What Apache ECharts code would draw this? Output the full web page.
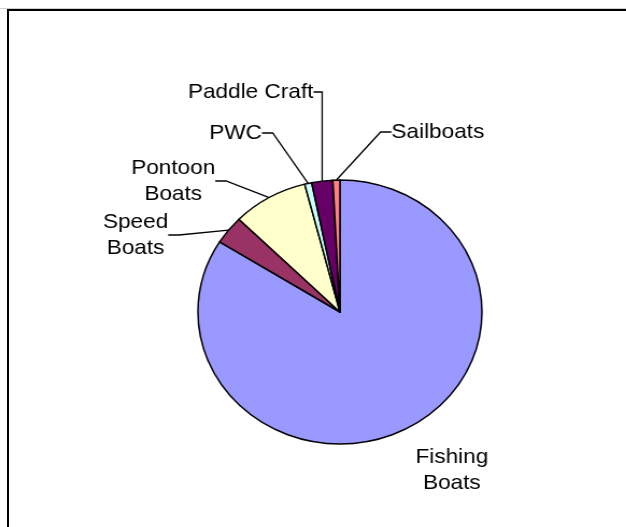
<!DOCTYPE html>
<html>
<head>
<meta charset="utf-8">
<script src="https://cdn.jsdelivr.net/npm/echarts@6/dist/echarts.min.js"></script>
<style>
  html, body { margin: 0; padding: 0; background: #fff; overflow: hidden; width: 626px; height: 527px; }
  /* the source chart is slightly stretched horizontally (pie is an ellipse) */
  #chart { position: absolute; left: 0; top: 0; width: 582px; height: 527px; transform: scaleX(1.0758); transform-origin: 0 0; }
  #frame { position: absolute; left: 7px; top: 9px; width: 800px; height: 800px; border-top: 2px solid #000; border-left: 2px solid #000; }
  #shade { position: absolute; left: 0; top: 8px; width: 626px; height: 1px; background: #cfcfcf; }
</style>
</head>
<body>
<div id="shade"></div>
<div id="frame"></div>
<div id="chart"></div>
<script>
const categories = ['Fishing Boats', 'Speed Boats', 'Pontoon Boats', 'PWC', 'Paddle Craft', 'Sailboats']
const labelText = ['Fishing\nBoats', 'Speed\nBoats', 'Pontoon\nBoats', 'PWC', 'Paddle Craft', 'Sailboats']
const values = [83.9, 3.5, 8.6, 0.8, 2.4, 0.8]
const colors = ['#9999ff', '#993366', '#ffffcc', '#ccffff', '#660066', '#ff8080']

// label centres (unscaled px)
const labelPos = [[420, 470], [126, 235], [161, 181], [219, 133], [233, 92], [407, 132]]

const chart = echarts.init(document.getElementById('chart'))

chart.setOption({
  animation: false,
  series: [
    {
      type: 'pie',
      center: [316, 312],
      radius: 132,
      startAngle: 90,
      clockwise: true,
      avoidLabelOverlap: false,
      minShowLabelAngle: 0,
      data: categories.map((name, i) => ({
        name,
        value: values[i],
        itemStyle: { color: colors[i] },
        label: { formatter: labelText[i] },
        labelLine: { show: i !== 0 },
      })),
      itemStyle: { borderColor: '#000', borderWidth: 1.5 },
      label: {
        color: '#000',
        fontFamily: 'Arial, "Liberation Sans", sans-serif',
        fontSize: 21,
        lineHeight: 26,
        align: 'center',
      },
      labelLine: { show: true, lineStyle: { color: '#000', width: 1.3 }, length: 10, length2: 10 },
      labelLayout: (params) => {
        const p = labelPos[params.dataIndex]
        return { x: p[0], y: p[1], align: 'center', verticalAlign: 'middle' }
      },
      emphasis: { disabled: true },
    },
  ],
})
</script>
</body>
</html>
